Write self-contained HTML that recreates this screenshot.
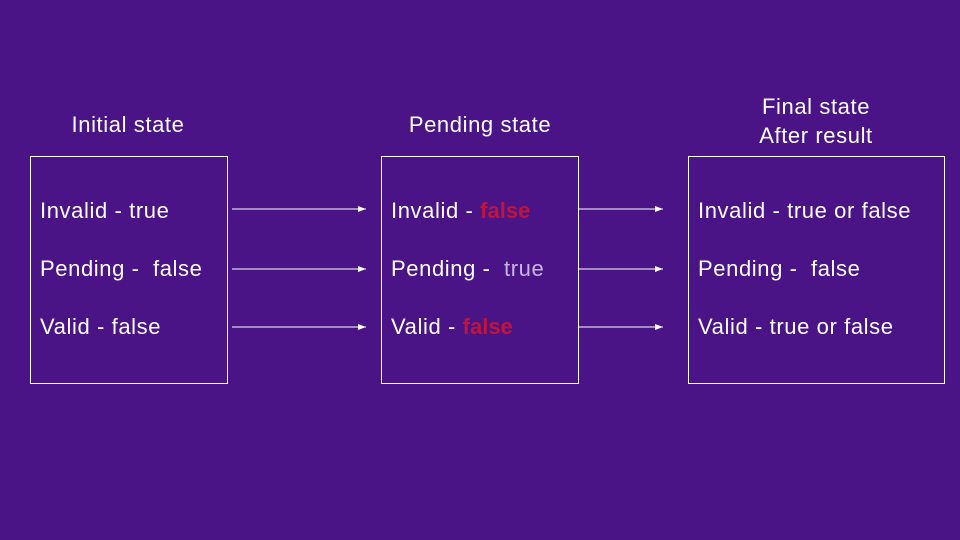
<!DOCTYPE html>
<html><head><style>
body{margin:0;width:960px;height:540px;background:#4a1486;font-family:"Liberation Sans",sans-serif;color:#fff;position:relative;overflow:hidden}
.t{position:absolute;font-size:22px;letter-spacing:0.6px;white-space:nowrap}
.c{text-align:center}
.box{position:absolute;border:1px solid #fff;box-sizing:border-box}
.r{color:#c0143c;font-weight:bold;letter-spacing:0}
.l{color:#c8b4e0}
</style></head><body>
<div class="t c" style="left:28px;width:200px;top:112px">Initial state</div>
<div class="t c" style="left:380px;width:200px;top:112px">Pending state</div>
<div class="t c" style="left:716px;width:200px;top:92px;line-height:29px">Final state<br>After result</div>
<div class="box" style="left:30px;top:156px;width:198px;height:228px"></div>
<div class="box" style="left:381px;top:156px;width:198px;height:228px"></div>
<div class="box" style="left:688px;top:156px;width:257px;height:228px"></div>
<div class="t" style="left:40px;top:198px">Invalid - true</div>
<div class="t" style="left:40px;top:256px">Pending -&nbsp; false</div>
<div class="t" style="left:40px;top:314px">Valid - false</div>
<div class="t" style="left:391px;top:198px">Invalid - <span class="r">false</span></div>
<div class="t" style="left:391px;top:256px">Pending -&nbsp; <span class="l">true</span></div>
<div class="t" style="left:391px;top:314px">Valid - <span class="r">false</span></div>
<div class="t" style="left:698px;top:198px">Invalid - true or false</div>
<div class="t" style="left:698px;top:256px">Pending -&nbsp; false</div>
<div class="t" style="left:698px;top:314px">Valid - true or false</div>
<svg width="960" height="540" style="position:absolute;left:0;top:0">
<defs><marker id="a" markerWidth="8" markerHeight="6" refX="8" refY="3" orient="auto" markerUnits="userSpaceOnUse"><path d="M0,0L8,3L0,6z" fill="#fff"/></marker></defs>
<g stroke="#fff" stroke-width="1" marker-end="url(#a)">
<line x1="232" y1="209" x2="366" y2="209"/>
<line x1="232" y1="269" x2="366" y2="269"/>
<line x1="232" y1="327" x2="366" y2="327"/>
<line x1="579" y1="209" x2="663" y2="209"/>
<line x1="579" y1="269" x2="663" y2="269"/>
<line x1="579" y1="327" x2="663" y2="327"/>
</g></svg>
</body></html>
